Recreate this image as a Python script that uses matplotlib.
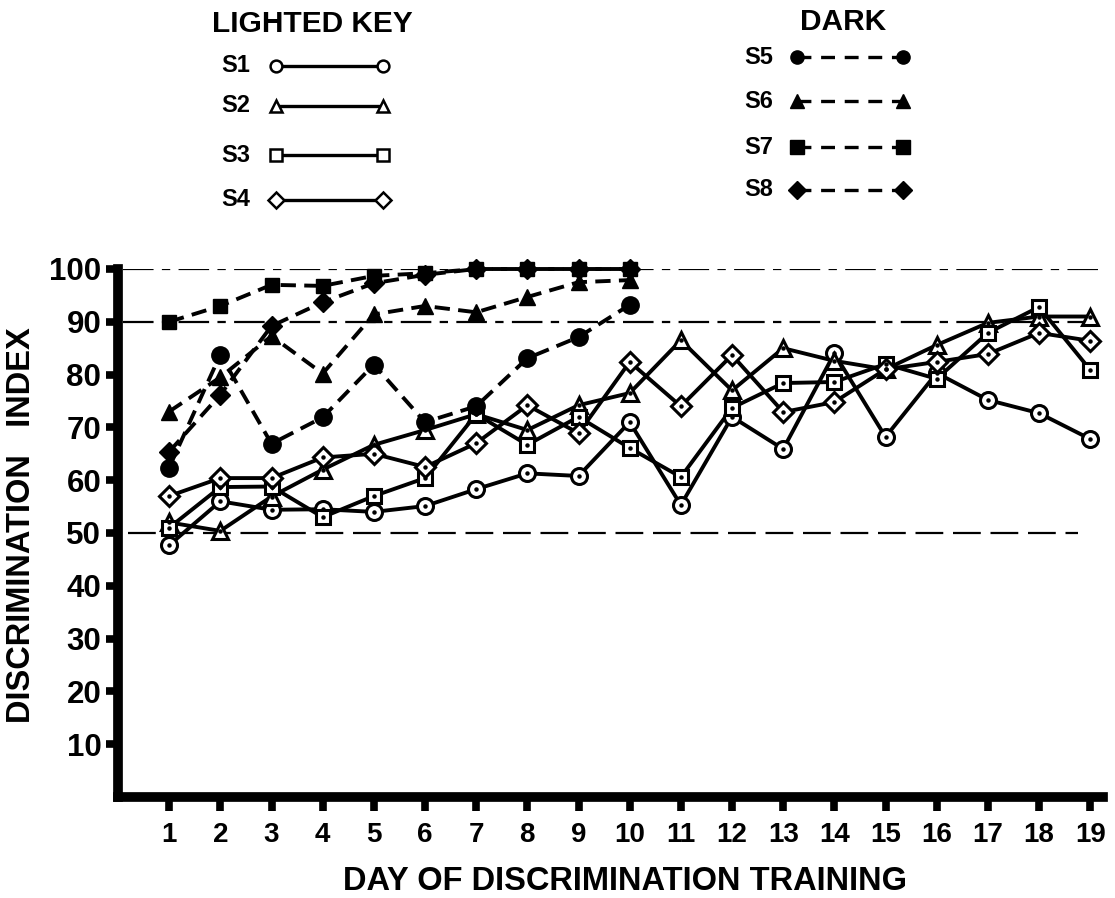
import matplotlib
matplotlib.use("Agg")
import matplotlib.pyplot as plt

plt.rcParams['lines.scale_dashes'] = False

# ---------------- data ----------------
days = list(range(1, 20))
days_dark = list(range(1, 11))

s1 = [47.7, 56.0, 54.4, 54.5, 54.0, 55.1, 58.3, 61.3, 60.8, 71.0,
      55.3, 72.0, 65.9, 84.0, 68.2, 80.3, 75.2, 72.7, 67.8]
s2 = [52.0, 50.4, 56.9, 62.0, 66.7, 69.5, 72.5, 69.5, 74.2, 76.5,
      86.5, 77.0, 85.0, 82.6, 81.0, 85.6, 89.8, 91.0, 91.0]
s3 = [51.0, 58.7, 58.8, 53.0, 57.0, 60.4, 72.5, 66.7, 72.0, 66.1,
      60.6, 73.7, 78.4, 78.6, 82.0, 79.2, 87.9, 92.8, 80.9]
s4 = [57.0, 60.4, 60.4, 64.3, 65.0, 62.5, 67.0, 74.2, 68.9, 82.4,
      74.0, 83.7, 72.9, 74.8, 81.0, 82.4, 83.9, 87.9, 86.4]

s5 = [62.4, 83.8, 66.9, 71.9, 81.9, 71.0, 74.0, 83.1, 87.1, 93.2]
s6 = [73.0, 79.5, 87.3, 80.2, 91.4, 93.0, 91.8, 94.7, 97.5, 97.9]
s7 = [90.0, 93.0, 97.0, 96.8, 98.7, 99.2, 100.0, 100.0, 100.0, 100.0]
s8 = [65.4, 76.2, 89.2, 93.7, 97.3, 98.9, 100.0, 100.0, 100.0, 100.0]

yticks = [10, 20, 30, 40, 50, 60, 70, 80, 90, 100]

lighted_names = ['S1', 'S2', 'S3', 'S4']
dark_names = ['S5', 'S6', 'S7', 'S8']

# ---------------- figure ----------------
W, H = 1115, 898
fig = plt.figure(figsize=(W / 100, H / 100), dpi=100)

bold = dict(fontweight='bold')
fam = ['Liberation Sans', 'DejaVu Sans']

ax = fig.add_axes([118 / W, (H - 797) / H, 985 / W, (797 - 269) / H])
ax.set_xlim(0, 19.25)
ax.set_ylim(0, 100)

for s in ['top', 'right']:
    ax.spines[s].set_visible(False)
for s in ['left', 'bottom']:
    ax.spines[s].set_linewidth(7)
    ax.spines[s].set_capstyle('projecting')

ax.set_yticks(yticks)
ax.set_yticklabels([str(v) for v in yticks], family=fam, fontsize=22.5, **bold)
ax.set_xticks(days)
ax.set_xticklabels([str(d) for d in days], family=fam, fontsize=20, **bold)
ax.tick_params(axis='y', direction='out', length=9, width=5.5, pad=3)
ax.tick_params(axis='x', direction='out', length=10, width=5.5, pad=8)

# reference lines
ax.axhline(100, xmin=0.005, xmax=1.0, color='black', lw=1.6, dashes=(22, 6, 6, 6), zorder=1)
ax.axhline(90, xmin=0.005, xmax=1.0, color='black', lw=1.6, dashes=(22, 6, 6, 6), zorder=1)
ax.axhline(50, xmin=0.01, xmax=0.975, color='black', lw=1.6, dashes=(20, 7), zorder=1)

# lighted key series (open markers with a centre dot, solid lines)
light_series = [s1, s2, s3, s4]
light_markers = ['o', '^', 's', 'D']
light_sizes = [11.5, 11.5, 10.5, 10]
for vals, m, ms in zip(light_series, light_markers, light_sizes):
    ax.plot(days, vals, color='black', lw=2.8, zorder=3, clip_on=False)
    ax.plot(days, vals, ls='none', marker=m, ms=ms, mfc='white', mec='black',
            mew=2.2, zorder=4, clip_on=False)
    ax.plot(days, vals, ls='none', marker='o', ms=2.2, color='black', zorder=5,
            clip_on=False)

# dark series (filled markers, dashed lines)
dark_series = [s5, s6, s7, s8]
dark_markers = ['o', '^', 's', 'D']
dark_sizes = [12.5, 12, 10.5, 10.5]
for vals, m, ms in zip(dark_series, dark_markers, dark_sizes):
    ax.plot(days_dark, vals, color='black', lw=2.8, dashes=(11, 6), zorder=3,
            clip_on=False)
    ax.plot(days_dark, vals, ls='none', marker=m, ms=ms, color='black',
            zorder=4, clip_on=False)

# axis titles
fig.text(625 / W, 1 - 882 / H, 'DAY OF DISCRIMINATION TRAINING', family=fam,
         fontsize=23.5, ha='center', va='center', **bold)
fig.text(22 / W, 1 - 525 / H, 'DISCRIMINATION   INDEX', family=fam,
         fontsize=23.5, ha='center', va='center', rotation=90, **bold)

# ---------------- legend drawn in pixel space ----------------
lax = fig.add_axes([0, 0, 1, 1], zorder=-1)
lax.set_xlim(0, W)
lax.set_ylim(H, 0)
lax.axis('off')

lax.text(312, 24, 'LIGHTED KEY', family=fam, fontsize=21.5, ha='center',
         va='center', **bold)
lax.text(843, 22, 'DARK', family=fam, fontsize=21.5, ha='center',
         va='center', **bold)

light_leg_y = [66, 106, 155, 200]
for name, m, yy in zip(lighted_names, light_markers, light_leg_y):
    lax.text(236, yy, name, family=fam, fontsize=17, ha='center',
             va='center', **bold)
    lax.plot([276, 383], [yy, yy], color='black', lw=2.4)
    lax.plot([276, 383], [yy, yy], ls='none', marker=m, ms=8.5, mfc='white',
             mec='black', mew=1.8)

dark_leg_y = [57, 101, 147, 190]
for name, m, yy in zip(dark_names, dark_markers, dark_leg_y):
    lax.text(759, yy, name, family=fam, fontsize=17, ha='center',
             va='center', **bold)
    lax.plot([797, 903], [yy, yy], color='black', lw=2.4, dashes=(10, 7))
    lax.plot([797, 903], [yy, yy], ls='none', marker=m, ms=9.5, color='black')

fig.savefig('out.png', dpi=100)
